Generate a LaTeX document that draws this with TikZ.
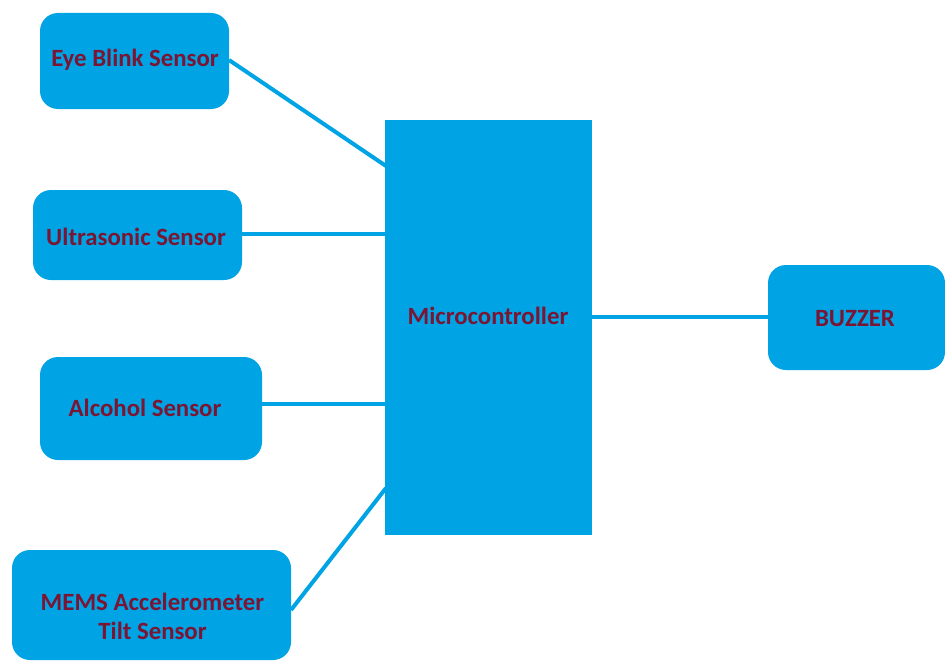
\documentclass[tikz,border=0pt]{standalone}
\usepackage{fontspec}
\setmainfont{Carlito}
\definecolor{boxblue}{RGB}{0,163,228}
\definecolor{txtred}{RGB}{122,22,52}
\begin{document}
\begin{tikzpicture}[x=1pt,y=-1pt,
  blk/.style={fill=boxblue,draw=none,rounded corners=18pt,inner sep=0pt},
  mcbox/.style={fill=boxblue,draw=none,inner sep=0pt},
  lbl/.style={text=txtred,font=\bfseries\fontsize{24.8}{29}\selectfont,align=center,inner sep=0pt},
  wire/.style={draw=boxblue,line width=4pt}]
\useasboundingbox (0,0) rectangle (945,661);
% sensor boxes
\node[blk,minimum width=189pt,minimum height=96pt] (eye) at (134.5,61) {};
\node[lbl] (eyet) at (135,60) {Eye Blink Sensor};
\node[blk,minimum width=209pt,minimum height=90pt] (ultra) at (137.5,235) {};
\node[lbl] (ultrat) at (136,237) {Ultrasonic Sensor};
\node[blk,minimum width=222pt,minimum height=103pt] (alc) at (151,408.5) {};
\node[lbl] (alct) at (145,408) {Alcohol Sensor};
\node[blk,minimum width=279pt,minimum height=110pt] (mems) at (151.5,605) {};
\node[lbl] (memst) at (152.5,616) {MEMS Accelerometer\\Tilt Sensor};
% microcontroller
\node[mcbox,minimum width=207pt,minimum height=415pt] (mc) at (488.5,327.5) {};
\node[lbl] (mct) at (488,316) {Microcontroller};
% buzzer
\node[blk,minimum width=177pt,minimum height=105pt] (buz) at (856.5,317.5) {};
\node[lbl] (buzt) at (855,319) {BUZZER};
% attach points
\coordinate (e1) at (229,60);
\coordinate (m1) at (386,166);
\coordinate (m2) at (386,234);
\coordinate (m3) at (386,404);
\coordinate (m4) at (386,488);
\coordinate (p4) at (291,610);
\coordinate (mo) at (591,317);
\draw[wire] (e1) -- (m1);
\draw[wire] (ultra.east |- m2) -- (m2);
\draw[wire] (alc.east |- m3) -- (m3);
\draw[wire] (p4) -- (m4);
\draw[wire] (mo) -- (buz.west |- mo);
\end{tikzpicture}
\end{document}
